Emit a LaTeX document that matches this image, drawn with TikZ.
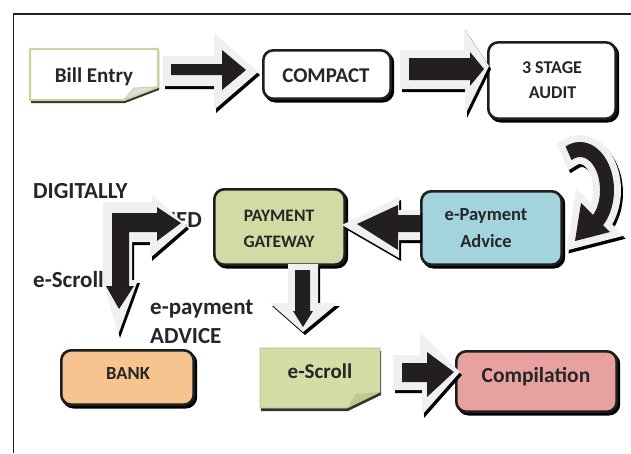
\documentclass[tikz,border=0pt]{standalone}
\usepackage{fontspec}
\setmainfont{Carlito}
\definecolor{ink}{HTML}{231F20}
\definecolor{halo}{HTML}{F0F0F2}
\definecolor{txt}{HTML}{262626}
\definecolor{bord}{HTML}{1E1E1E}
\definecolor{gwfill}{HTML}{D3DBA4}
\definecolor{esfill}{HTML}{D5DCA6}
\definecolor{esflap}{HTML}{BFC98F}
\definecolor{epfill}{HTML}{A3D3DD}
\definecolor{bkfill}{HTML}{F6C48E}
\definecolor{cpfill}{HTML}{E7A19F}
\definecolor{notegreen}{HTML}{C5D89C}
\newcommand\fs[1]{\fontsize{#1}{#1}\selectfont}
% block arrow: #1 outer (grey) path, #2 inner (dark) path
\newcommand\blockarrow[2]{%
  \path[fill=black, shift={(2,3)}] #1;
  \path[fill=halo] #1;
  \path[fill=ink] #2;}
\begin{document}
\begin{tikzpicture}[x=1pt,y=-1pt,
  box/.style={draw=bord, line width=2.6pt, rounded corners=10pt, inner sep=0pt,
    preaction={draw=black, fill=black, line width=2.6pt, transform canvas={xshift=2.2pt,yshift=-2.5pt}}},
  lbl/.style={inner sep=0pt, text=txt, font=\bfseries\fs{#1}},
  lbl/.default=20,
  notepath/.style={line join=round},
]
\useasboundingbox (0,0) rectangle (631,453);
\fill[white] (0,0) rectangle (631,453);

% frame
\draw[ink, line width=1.5pt] (13.5,453) -- (13.5,14) -- (631,14);

% free labels (partly covered by the bent arrow)
\node[lbl=23, anchor=base west] (digitally) at (33,198) {DIGITALLY};
\node[lbl=23, anchor=base east] (signed) at (202,227) {SIGNED};
\node[lbl=23, anchor=base west] (escrolllbl) at (33,287) {e-Scroll};
\node[lbl=23, anchor=base west] (epaylbl) at (150,314) {e-payment};
\node[lbl=23, anchor=base west] (advicelbl) at (150,343) {ADVICE};

% Bill Entry note
\path[fill=black!80, shift={(1,3)}] (30,49) -- (158,49) -- (158,87) -- (124,100) -- (30,100) -- cycle;
\path[notepath, fill=white, draw=notegreen, line width=2.2pt] (30,49) -- (158,49) -- (158,87) -- (124,100) -- (30,100) -- cycle;
\path[notepath, fill=black!13, draw=notegreen, line width=1pt] (124,100) -- (158,87) -- (134,88) -- cycle;

% e-Scroll note
\path[fill=black!80, shift={(1,3)}] (260,348) -- (380,348) -- (380,392) -- (347,408) -- (260,408) -- cycle;
\path[notepath, fill=esfill, draw=esfill!85!black, line width=0.8pt] (260,348) -- (380,348) -- (380,392) -- (347,408) -- (260,408) -- cycle;
\path[notepath, fill=esflap] (347,408) -- (380,392) -- (356,394) -- cycle;

% boxes
\node[box, fill=white, minimum width=127.4pt, minimum height=48.4pt] (compact) at (327,74.5) {};
\node[box, fill=white, minimum width=127.4pt, minimum height=76.4pt] (audit) at (552,80.5) {};
\node[box, fill=epfill, minimum width=140.4pt, minimum height=73.4pt] (epadvice) at (491.5,228) {};
\node[box, fill=gwfill, minimum width=130.4pt, minimum height=75.4pt] (gateway) at (279.5,227) {};
\node[box, fill=bkfill, minimum width=132.4pt, minimum height=54.4pt] (bank) at (127.5,377.5) {};
\node[box, fill=cpfill, minimum width=160.4pt, minimum height=60.4pt] (compilation) at (536.5,381.5) {};

% block arrows
% Bill Entry -> COMPACT
\blockarrow{(163,56) -- (214,56) -- (214,33) -- (258,72) -- (214,110) -- (214,86) -- (163,86) -- cycle}
           {(171,64) -- (222,64) -- (222,50) -- (246,70) -- (222,90) -- (222,75) -- (171,75) -- cycle}
% COMPACT -> 3 STAGE AUDIT
\blockarrow{(400,50) -- (464,50) -- (464,28) -- (489,66) -- (465,115) -- (465,89) -- (400,89) -- cycle}
           {(409,58) -- (470,58) -- (470,52) -- (484,69) -- (470,86) -- (470,80) -- (409,80) -- cycle}
% e-Payment Advice -> PAYMENT GATEWAY
\blockarrow{(420,210) -- (399,210) -- (399,197) -- (342,225) -- (399,258) -- (399,240) -- (420,240) -- cycle}
           {(420,215) -- (398,215) -- (398,205) -- (357,224) -- (398,250) -- (398,232) -- (420,232) -- cycle}
% PAYMENT GATEWAY -> e-Scroll
\blockarrow{(288,264) -- (318,264) -- (318,303) -- (338,303) -- (303,332) -- (270,303) -- (288,303) -- cycle}
           {(295,270) -- (310,270) -- (310,311) -- (313,311) -- (303,327) -- (293,311) -- (295,311) -- cycle}
% e-Scroll -> Compilation
\blockarrow{(393,355) -- (420,355) -- (420,332) -- (460,372) -- (422,415) -- (422,390) -- (393,390) -- cycle}
           {(402,363) -- (427,363) -- (427,352) -- (454,372) -- (427,397) -- (427,382) -- (402,382) -- cycle}
% bent arrow towards SIGNED and BANK
\blockarrow{(103,202) -- (152,202) -- (152,195) -- (187,226) -- (150,258) -- (150,242) -- (132,242) -- (132,280) -- (138,280) -- (118,335) -- (103,280) -- cycle}
           {(112,213) -- (157,213) -- (157,207) -- (181,223) -- (157,241) -- (157,232) -- (129,232) -- (129,286) -- (134,286) -- (119,309) -- (106,286) -- (112,286) -- cycle}
% curved arrow 3 STAGE AUDIT -> e-Payment Advice
\def\curvepath{(565.6,146.5) arc[start angle=-115, end angle=47.1, x radius=34, y radius=48] -- (610,232) -- (575,241) -- (581,203) -- (593.05,215.0) arc[start angle=49.3, end angle=-115, x radius=20, y radius=33] -- cycle}
\path[fill=black, draw=black, line width=14pt, line join=miter, shift={(2,3)}] \curvepath;
\path[fill=halo, draw=halo, line width=14pt, line join=miter] \curvepath;
\path[fill=ink] \curvepath;

% box texts
\node[lbl=21, anchor=base] (billentry) at (94,82) {Bill Entry};
\node[lbl=21, anchor=base] (compact-t) at (326,82) {COMPACT};
\node[lbl=18, anchor=base] (audit-1) at (552,73) {3 STAGE};
\node[lbl=18, anchor=base] (audit-2) at (552.5,98) {AUDIT};
\node[lbl=17.5, anchor=base] (gateway-1) at (279,221) {PAYMENT};
\node[lbl=17.5, anchor=base] (gateway-2) at (279,247) {GATEWAY};
\node[lbl=18.5, anchor=base] (epadvice-1) at (486,220) {e-Payment};
\node[lbl=18.5, anchor=base] (epadvice-2) at (486,247) {Advice};
\node[lbl=18.5, anchor=base] (bank-t) at (128,379) {BANK};
\node[lbl=21, anchor=base] (escroll) at (320,378) {e-Scroll};
\node[lbl=21.5, anchor=base] (compilation-t) at (536,382) {Compilation};
\end{tikzpicture}
\end{document}
